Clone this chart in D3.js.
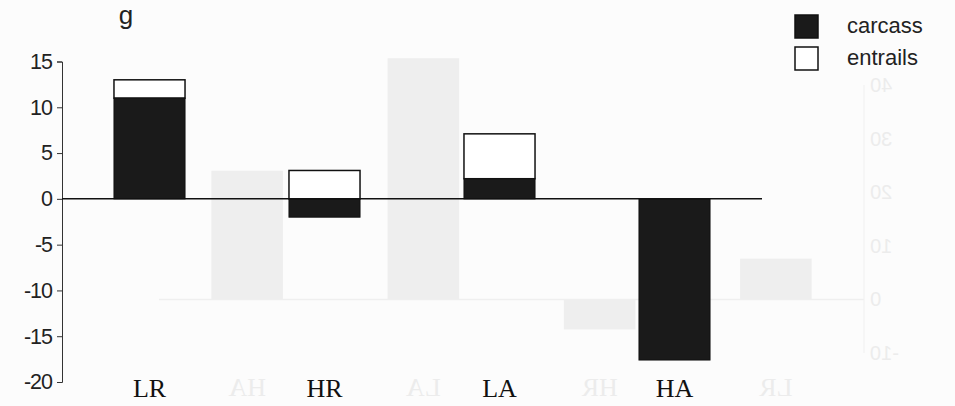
<!DOCTYPE html>
<html>
<head>
<meta charset="utf-8">
<script src="https://cdn.jsdelivr.net/npm/d3@7"></script>
<style>
  html, body { margin: 0; padding: 0; background: #fcfcfc; }
  svg { display: block; }
</style>
</head>
<body>
<div class="chart"></div>
<script>
const WIDTH = 955;
const HEIGHT = 406;

// main chart data (g)
var categories = ['LR', 'HR', 'LA', 'HA'];
var carcass = [11, -2, 2.2, -17.6];
var entrails = [2, 3.1, 4.9, 0];
var yTicks = [15, 10, 5, 0, -5, -10, -15, -20];

// faint chart showing through from the back of the page (mirrored)
var ghostCategories = ['HA', 'LA', 'HR', 'LR'];
var ghostValues = [24, 45, -5.6, 7.6];
var ghostTicks = [40, 30, 20, 10, 0, -10];

var translate = function (x, y) {
  return 'translate(' + x + ',' + y + ')';
};

// plain hyphen for negatives, like the original print
var hyphen = function (d) { return String(d); };

var svg = d3.select('.chart').append('svg')
  .attr('width', WIDTH)
  .attr('height', HEIGHT);

// ---- ghost layer ----
var gx = d3.scaleBand()
  .domain(ghostCategories)
  .range([159, 864])
  .paddingInner(0.594)
  .paddingOuter(0.297);

var gy = d3.scaleLinear()
  .domain([-10, 40])
  .range([353, 85]);

var ghost = svg.append('g').attr('class', 'ghost');

ghost.selectAll('rect')
  .data(ghostValues)
  .enter().append('rect')
  .attr('x', function (d, i) { return gx(ghostCategories[i]); })
  .attr('width', gx.bandwidth())
  .attr('y', function (d) { return gy(Math.max(0, d)); })
  .attr('height', function (d) { return Math.abs(gy(d) - gy(0)); })
  .attr('fill', '#eeeeee');

ghost.append('line')
  .attr('x1', 159).attr('x2', 864)
  .attr('y1', gy(0)).attr('y2', gy(0))
  .attr('stroke', '#efefef').attr('stroke-width', 1.5);

ghost.append('line')
  .attr('x1', 864).attr('x2', 864)
  .attr('y1', gy(40)).attr('y2', gy(-10))
  .attr('stroke', '#f0f0f0').attr('stroke-width', 1);

ghost.selectAll('.gtick')
  .data(ghostTicks)
  .enter().append('text')
  .attr('class', 'gtick')
  .attr('transform', function (d) { return translate(870, gy(d) + 7) + ' scale(-1,1)'; })
  .attr('text-anchor', 'end')
  .attr('font-family', 'Liberation Sans, Arial, sans-serif')
  .attr('font-size', 20)
  .attr('fill', '#ececec')
  .text(hyphen);

ghost.selectAll('.glabel')
  .data(ghostCategories)
  .enter().append('text')
  .attr('class', 'glabel')
  .attr('transform', function (d) { return translate(gx(d) + gx.bandwidth() / 2, 396) + ' scale(-1,1)'; })
  .attr('text-anchor', 'middle')
  .attr('font-family', 'Liberation Serif, Times New Roman, serif')
  .attr('font-size', 26)
  .attr('fill', '#ececec')
  .text(function (d) { return d; });

// ---- main chart ----
var xScale = d3.scaleBand()
  .domain(categories)
  .range([62, 762])
  .paddingInner(0.594)
  .paddingOuter(0.297);

var yScale = d3.scaleLinear()
  .domain([-20, 15])
  .range([382, 61.5]);

var yAxis = d3.axisLeft(yScale)
  .tickValues(yTicks)
  .tickFormat(hyphen)
  .tickSize(5)
  .tickPadding(5);

var axisG = svg.append('g')
  .attr('transform', translate(62, 0))
  .call(yAxis);

axisG.select('.domain').attr('stroke', '#333').attr('stroke-width', 1);
axisG.selectAll('.tick line').attr('stroke', '#333');
axisG.selectAll('.tick text')
  .attr('font-family', 'Liberation Sans, Arial, sans-serif')
  .attr('font-size', 21.5)
  .attr('letter-spacing', -1)
  .attr('fill', '#222');

var bars = svg.append('g').attr('class', 'bars');

// entrails: stacked on top of carcass when carcass positive, above zero otherwise
bars.selectAll('.entrails')
  .data(entrails)
  .enter().append('rect')
  .attr('class', 'entrails')
  .attr('x', function (d, i) { return xScale(categories[i]); })
  .attr('width', xScale.bandwidth())
  .attr('y', function (d, i) { return yScale(Math.max(0, carcass[i]) + d); })
  .attr('height', function (d) { return yScale(0) - yScale(d); })
  .attr('fill', '#ffffff')
  .attr('stroke', '#111')
  .attr('stroke-width', 1.5)
  .style('display', function (d) { return d > 0 ? null : 'none'; });

bars.selectAll('.carcass')
  .data(carcass)
  .enter().append('rect')
  .attr('class', 'carcass')
  .attr('x', function (d, i) { return xScale(categories[i]); })
  .attr('width', xScale.bandwidth())
  .attr('y', function (d) { return yScale(Math.max(0, d)); })
  .attr('height', function (d) { return Math.abs(yScale(d) - yScale(0)); })
  .attr('fill', '#1a1a1a')
  .attr('stroke', '#111')
  .attr('stroke-width', 1);

// zero line
svg.append('line')
  .attr('x1', 62).attr('x2', 762)
  .attr('y1', yScale(0)).attr('y2', yScale(0))
  .attr('stroke', '#111')
  .attr('stroke-width', 1.5);

// category labels
svg.selectAll('.catlabel')
  .data(categories)
  .enter().append('text')
  .attr('class', 'catlabel')
  .attr('x', function (d) { return xScale(d) + xScale.bandwidth() / 2; })
  .attr('y', 397)
  .attr('text-anchor', 'middle')
  .attr('font-family', 'Liberation Serif, Times New Roman, serif')
  .attr('font-size', 26)
  .attr('fill', '#111')
  .text(function (d) { return d; });

// unit label
svg.append('text')
  .attr('x', 126)
  .attr('y', 24)
  .attr('text-anchor', 'middle')
  .attr('font-family', 'Liberation Sans, Arial, sans-serif')
  .attr('font-size', 26)
  .attr('fill', '#222')
  .text('g');

// legend
var legendItems = [
  { name: 'carcass', fill: '#1a1a1a' },
  { name: 'entrails', fill: '#ffffff' }
];

var legend = svg.append('g').attr('transform', translate(795, 15));

var item = legend.selectAll('.item')
  .data(legendItems)
  .enter().append('g')
  .attr('class', 'item')
  .attr('transform', function (d, i) { return translate(0, i * 32); });

item.append('rect')
  .attr('width', 23)
  .attr('height', 23)
  .attr('fill', function (d) { return d.fill; })
  .attr('stroke', '#111')
  .attr('stroke-width', 1.5);

item.append('text')
  .attr('x', 52)
  .attr('y', 18)
  .attr('font-family', 'Liberation Sans, Arial, sans-serif')
  .attr('font-size', 22)
  .attr('fill', '#222')
  .text(function (d) { return d.name; });
</script>
</body>
</html>
